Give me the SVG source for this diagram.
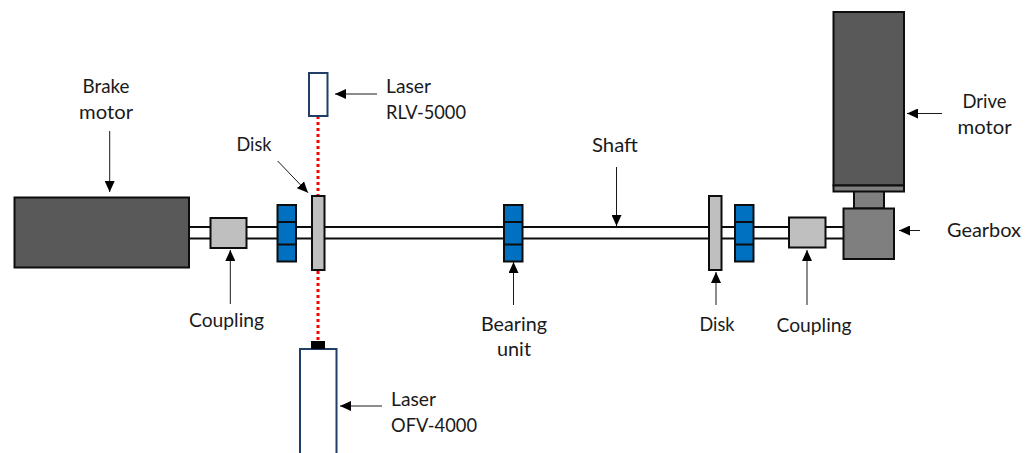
<svg xmlns="http://www.w3.org/2000/svg" width="1035" height="453" viewBox="0 0 1035 453">
<style>
text{font-family:"Lato","Open Sans","Liberation Sans",sans-serif;font-size:19px;fill:#1a1a1a;text-anchor:middle}
.s{text-anchor:start}
.e{stroke:#0d0d0d;stroke-width:2}
.dark{fill:#595959}.mid{fill:#7f7f7f}.light{fill:#bfbfbf}.blue{fill:#0070c0}
.laser{fill:#fff;stroke:#1f3f66;stroke-width:2}
.shaft{stroke:#0d0d0d;stroke-width:2;fill:none}
.beam{stroke:#f00;stroke-width:3;stroke-dasharray:3 3;fill:none}
.lead{stroke:#1a1a1a;stroke-width:1;fill:none;marker-end:url(#a)}
</style>
<defs><marker id="a" viewBox="0 0 11 10" refX="11" refY="5" markerWidth="11" markerHeight="10" markerUnits="userSpaceOnUse" orient="auto"><path d="M0 0L11 5L0 10Z" fill="#000"/></marker></defs>
<g id="connectors">
<path class="shaft" d="M189 227H843M189 238.500H843"/>
<path class="beam" d="M318 116V195M318 271V341"/>
<path class="lead" d="M109.700 131V192"/>
<path class="lead" d="M277.700 161L308 192.700"/>
<path class="lead" d="M230.300 304V250"/>
<path class="lead" d="M513.500 305V262"/>
<path class="lead" d="M616.500 167V226"/>
<path class="lead" d="M716 305V272"/>
<path class="lead" d="M807 305V250"/>
<path class="lead" d="M377 94H335"/>
<path class="lead" d="M382 406H340"/>
<path class="lead" d="M942 113.500H907"/>
<path class="lead" d="M920 230.500H899"/>
</g>
<g id="brake-motor"><rect class="dark e" x="14.500" y="197.500" width="174.500" height="70"/><text x="106" y="93" textLength="47" lengthAdjust="spacingAndGlyphs">Brake</text><text x="106" y="119" textLength="54" lengthAdjust="spacingAndGlyphs">motor</text></g>
<g id="coupling-left"><rect class="light e" x="210.500" y="218" width="36" height="30"/><text x="226.500" y="327" textLength="75" lengthAdjust="spacingAndGlyphs">Coupling</text></g>
<g id="bearing-left"><rect class="blue e" x="277.500" y="205" width="18.500" height="56.500"/><path class="e" d="M277.500 222H296M277.500 244.500H296"/></g>
<g id="disk-left"><rect class="light e" x="312" y="196" width="12.500" height="74"/><text x="254" y="151" textLength="35" lengthAdjust="spacingAndGlyphs">Disk</text></g>
<g id="laser-rlv"><rect class="laser" x="309" y="73" width="18.500" height="43"/><text class="s" x="386" y="93" textLength="45" lengthAdjust="spacingAndGlyphs">Laser</text><text class="s" x="386" y="119" textLength="80" lengthAdjust="spacingAndGlyphs">RLV-5000</text></g>
<g id="laser-ofv"><rect class="laser" x="300" y="349" width="36.500" height="110"/><rect x="311" y="341" width="14" height="8" fill="#000"/><text class="s" x="391" y="406" textLength="45" lengthAdjust="spacingAndGlyphs">Laser</text><text class="s" x="391" y="432" textLength="86" lengthAdjust="spacingAndGlyphs">OFV-4000</text></g>
<g id="bearing-mid"><rect class="blue e" x="504" y="205" width="18.500" height="56.500"/><path class="e" d="M504 222H522.500M504 244.500H522.500"/><text x="514" y="331" textLength="66" lengthAdjust="spacingAndGlyphs">Bearing</text><text x="514" y="356" textLength="34" lengthAdjust="spacingAndGlyphs">unit</text></g>
<g id="shaft"><text x="615" y="152" textLength="46" lengthAdjust="spacingAndGlyphs">Shaft</text></g>
<g id="disk-right"><rect class="light e" x="709" y="196" width="12.500" height="74"/><text x="717" y="331" textLength="35" lengthAdjust="spacingAndGlyphs">Disk</text></g>
<g id="bearing-right"><rect class="blue e" x="735" y="205" width="18.500" height="56.500"/><path class="e" d="M735 222H753.500M735 244.500H753.500"/></g>
<g id="coupling-right"><rect class="light e" x="789" y="217.500" width="36.500" height="30"/><text x="814" y="332" textLength="75" lengthAdjust="spacingAndGlyphs">Coupling</text></g>
<g id="gearbox"><rect class="mid e" x="854" y="191" width="30" height="17.500"/><rect class="mid e" x="843.500" y="208.500" width="50.500" height="50.500"/><text x="984" y="237" textLength="74" lengthAdjust="spacingAndGlyphs">Gearbox</text></g>
<g id="drive-motor"><rect class="dark e" x="833.500" y="12" width="70.500" height="173.500"/><rect class="mid e" x="833.500" y="185.500" width="70.500" height="6"/><text x="984.500" y="108" textLength="44" lengthAdjust="spacingAndGlyphs">Drive</text><text x="984.500" y="134" textLength="54" lengthAdjust="spacingAndGlyphs">motor</text></g>
</svg>
